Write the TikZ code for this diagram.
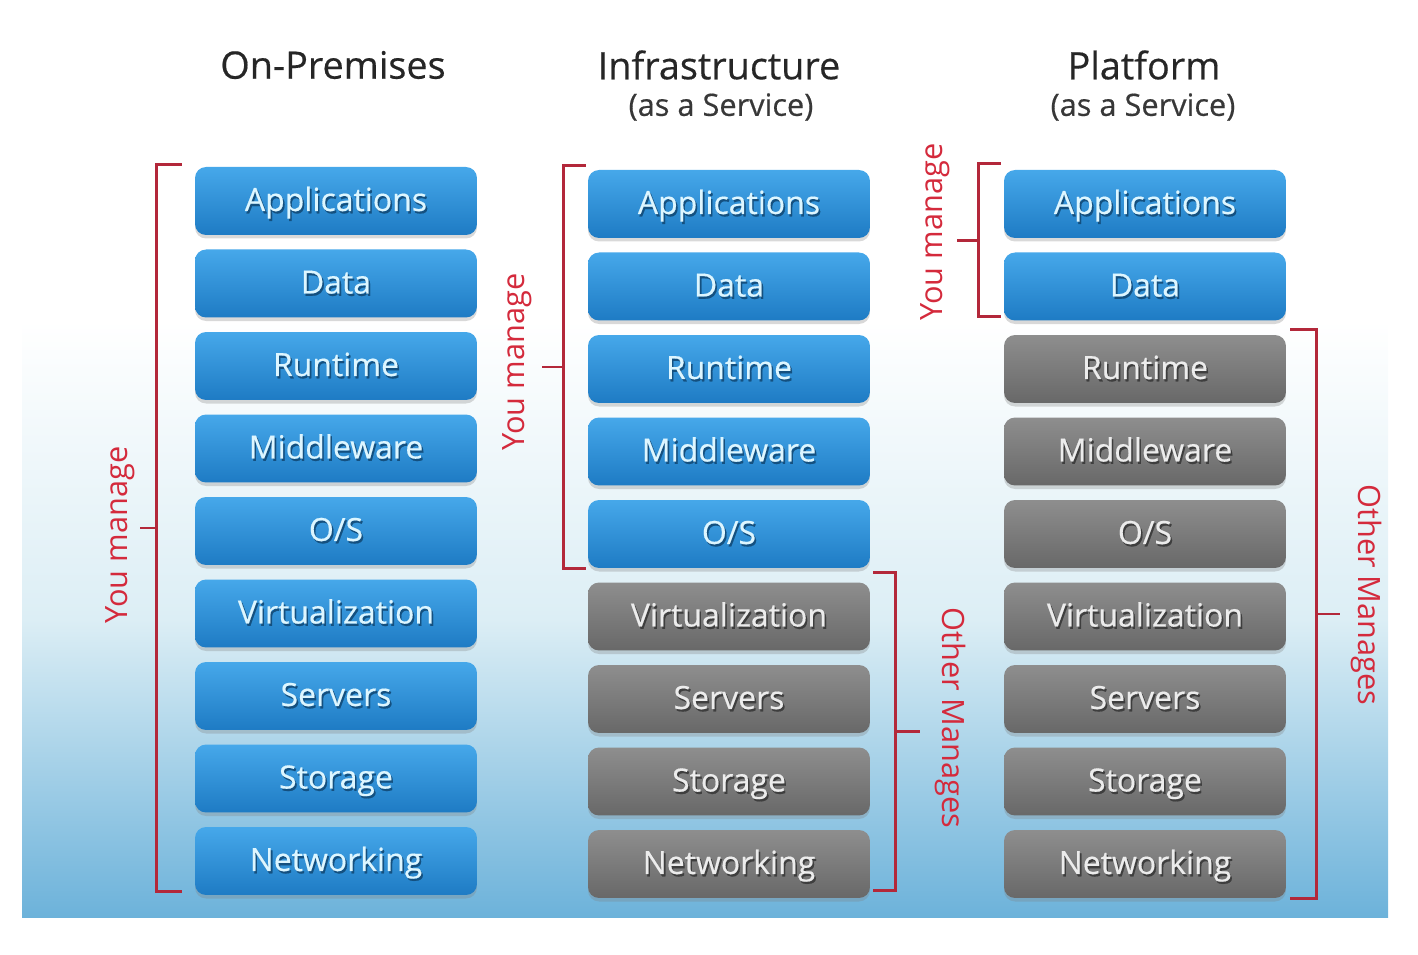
\documentclass[tikz,border=0pt]{standalone}
\usepackage{fontspec}
\setmainfont{Open Sans}
\newfontfamily\heavysans{Open Sans}[FakeBold=0.45]
\usetikzlibrary{calc,shadows}

\definecolor{bluetop}{HTML}{46A8EA}
\definecolor{bluebot}{HTML}{1E7BC4}
\definecolor{blueshd}{HTML}{14507F}
\definecolor{bluetxt}{HTML}{DDF6FF}
\definecolor{graytop}{HTML}{8E8E8E}
\definecolor{graybot}{HTML}{686868}
\definecolor{grayshd}{HTML}{3E3E3E}
\definecolor{graytxt}{HTML}{ECECEC}
\definecolor{brkred}{HTML}{B3283A}
\definecolor{lblred}{HTML}{D42A3C}
\definecolor{bgmid}{HTML}{DCEEF5}
\definecolor{bgbot}{HTML}{6CB2DA}

% layer name with a small dark text shadow
\newcommand\shtxt[1]{\makebox[0pt][l]{\hspace{0.9pt}\raisebox{-1.3pt}{\color{\shcol}#1}}#1}

\tikzset{
  layer/.style={rounded corners=0.22cm, minimum width=5.64cm, minimum height=1.36cm,
    inner sep=0pt, text height=0.45cm, text depth=0.05cm,
    font=\heavysans\fontsize{18.2}{20}\selectfont,
    drop shadow={shadow xshift=0pt, shadow yshift=-2pt, opacity=0.3}},
  boxb/.style={layer, top color=bluetop, bottom color=bluebot, text=bluetxt,
    execute at begin node=\def\shcol{blueshd}},
  boxg/.style={layer, top color=graytop, bottom color=graybot, text=graytxt,
    execute at begin node=\def\shcol{grayshd}},
  brk/.style={brkred, line width=1.7pt},
  lbl/.style={text=lblred, font=\fontsize{17.5}{20}\selectfont, inner sep=0pt},
  title/.style={text=black!85, font=\heavysans\fontsize{21.5}{24}\selectfont, inner sep=0pt},
  subtitle/.style={text=black!78, font=\heavysans\fontsize{17.5}{20}\selectfont, inner sep=0pt}
}

\begin{document}
\begin{tikzpicture}[x=0.02cm,y=-0.02cm]
    \useasboundingbox (0,0) rectangle (1418,955);

    % Backdrop
    \shade[top color=white, bottom color=bgbot, middle color=bgmid] (22,320) rectangle (1388,918);

    % Titles
    \node[title] (tOP) at (333,65) {On-Premises};
    \node[title] (tIaaS) at (719,65) {Infrastructure};
    \node[subtitle] (sIaaS) at (721,107) {(as a Service)};
    \node[title] (tPaaS) at (1144,65) {Platform};
    \node[subtitle] (sPaaS) at (1143,107) {(as a Service)};

    % On-Premises stack
    \foreach \name [count=\i] in {Applications,Data,Runtime,Middleware,O/S,Virtualization,Servers,Storage,Networking} {
        \node[boxb] (op\i) at (336,{201+(\i-1)*82.5}) {\shtxt{\name}};
    }

    % IaaS stack
    \foreach \name [count=\i] in {Applications,Data,Runtime,Middleware,O/S,Virtualization,Servers,Storage,Networking} {
        \ifnum\i<6 \def\kind{boxb}\else\def\kind{boxg}\fi
        \node[\kind] (iaas\i) at (729,{204+(\i-1)*82.5}) {\shtxt{\name}};
    }

    % PaaS stack
    \foreach \name [count=\i] in {Applications,Data,Runtime,Middleware,O/S,Virtualization,Servers,Storage,Networking} {
        \ifnum\i<3 \def\kind{boxb}\else\def\kind{boxg}\fi
        \node[\kind] (paas\i) at (1145,{204+(\i-1)*82.5}) {\shtxt{\name}};
    }

    % On-Premises: you manage
    \draw[brk] ($(op1.north west)+(-13,-2)$) -- ++(-25,0) coordinate (opA)
        -- ($(op9.south west)+(-38,-4)$) coordinate (opB) -- ++(25,0);
    \draw[brk] ($(opA)!0.5!(opB)$) -- ++(-17,0);
    \node[lbl,rotate=90] (opYou) at (120,535) {You manage};

    % IaaS: you manage / other manages
    \draw[brk] ($(iaas1.north west)+(-2,-4)$) -- ++(-22,0) coordinate (iaA)
        -- ($(iaas5.south west)+(-24,0)$) coordinate (iaB) -- ++(22,0);
    \draw[brk] ($(iaA)!0.5!(iaB)$) -- ++(-22,0);
    \node[lbl,rotate=90] (iaasYou) at (517,362) {You manage};

    \draw[brk] ($(iaas6.north east)+(3,-10)$) -- ++(22,0) coordinate (iaC)
        -- ($(iaas9.south east)+(25,-8)$) coordinate (iaD) -- ++(-22,0);
    \draw[brk] ($(iaC)!0.5!(iaD)$) -- ++(25,0);
    \node[lbl,rotate=-90] (iaasOther) at (950,718) {Other Manages};

    % PaaS: you manage / other manages
    \draw[brk] ($(paas1.north west)+(-3,-6)$) -- ++(-22,0) coordinate (paA)
        -- ($(paas2.south west)+(-25,-4)$) coordinate (paB) -- ++(22,0);
    \draw[brk] ($(paA)!0.5!(paB)$) -- ++(-22,0);
    \node[lbl,rotate=90] (paasYou) at (935,232) {You manage};

    \draw[brk] ($(paas3.north east)+(4,-5)$) -- ++(26,0) coordinate (paC)
        -- ($(paas9.south east)+(30,0)$) coordinate (paD) -- ++(-26,0);
    \draw[brk] ($(paC)!0.5!(paD)$) -- ++(24,0);
    \node[lbl,rotate=-90] (paasOther) at (1366,595) {Other Manages};
\end{tikzpicture}
\end{document}
